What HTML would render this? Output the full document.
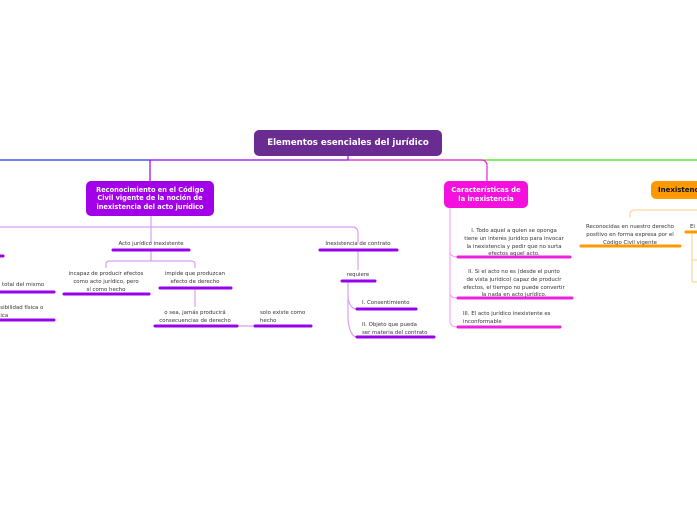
<!DOCTYPE html>
<html><head><meta charset="utf-8"><style>
body{margin:0;width:697px;height:520px;background:#fff;position:relative;overflow:hidden;font-family:"DejaVu Sans","Liberation Sans",sans-serif}
.n{position:absolute;color:#fff;font-weight:bold;text-align:center;border-radius:5px;display:flex;align-items:center;justify-content:center;line-height:1.25}
.t{position:absolute;font-size:5.4px;color:#333;line-height:1.45;text-align:center;white-space:nowrap;margin-top:2px}
.l{text-align:left}
</style></head><body>
<svg width="697" height="520" style="position:absolute;left:0;top:0">
<g fill="none" stroke-width="1.2">
<path d="M0 160H150" stroke="#2233ff"/>
<path d="M150 160H348M348 156V160M150 160V181" stroke="#9900ee"/>
<path d="M348 160H697" stroke="#44dd11"/>
<path d="M348 160H481Q487 160 487 166V181" stroke="#ee22dd"/>
<path d="M151 216V227M0 227H352Q358 227 358 233V243M151 227V243" stroke="#d9a0f0"/>
<path d="M151 250V261M106 268V264Q106 261 110 261H191Q195 261 195 264V268M195 288V307M237 326H255" stroke="#d9a0f0"/>
<path d="M358 250V270M348 281V298Q350 309 357 309M348 281V320Q350 337 357 337" stroke="#d9a0f0"/>
<path d="M450 208V252Q450 257 458 257M450 252V293Q450 298 458 298M450 293V321Q450 327 458 327" stroke="#f7a8ee"/>
<path d="M630 218V214Q630 210 636 210H697M692 232V282M692 260H697M692 282H697" stroke="#ffd699"/>
</g>
<g stroke-linecap="round" stroke-width="3">
<path d="M113 250H189M64 294H149M160 288H231M155 326H237M255 326H311M0 292H54M0 320H54M320 250H397M342 281H375M357 309H416M357 337H434M0 256H3" stroke="#9900ee"/>
<path d="M458 257H570M458 298H572M458 327H560" stroke="#ee22dd"/>
<path d="M581 246H680M686 232H697" stroke="#ff9900"/>
</g>
</svg>
<div class="n" style="left:254px;top:130px;width:188px;height:26px;background:#6a2c91;font-size:8.6px">Elementos esenciales del jurídico</div>
<div class="n" style="left:86px;top:181px;width:128px;height:35px;background:#a100e8;font-size:6.6px">Reconocimiento en el Código<br>Civil vigente de la noción de<br>inexistencia del acto jurídico</div>
<div class="n" style="left:444px;top:181px;width:84px;height:27px;background:#f511dd;font-size:6.8px">Características de<br>la inexistencia</div>
<div class="n" style="left:651px;top:181px;width:60px;height:18px;background:#ff9900;color:#111;font-size:7px;justify-content:flex-start;padding-left:7px">Inexistencia</div>
<div class="t" style="left:101px;top:239px;width:100px">Acto jurídico inexistente</div>
<div class="t" style="left:46px;top:269px;width:120px">incapaz de producir efectos<br>como acto jurídico, pero<br>sí como hecho</div>
<div class="t" style="left:145px;top:269px;width:100px">impide que produzcan<br>efecto de derecho</div>
<div class="t" style="left:145px;top:308px;width:100px">o sea, jamás producirá<br>consecuencias de derecho</div>
<div class="t l" style="left:260px;top:308px">solo existe como<br>hecho</div>
<div class="t l" style="left:-3px;top:280px">a total del mismo</div>
<div class="t l" style="left:-3px;top:303px">osibilidad física o<br>dica</div>
<div class="t" style="left:308px;top:239px;width:100px">Inexistencia de contrato</div>
<div class="t" style="left:328px;top:270px;width:60px">requiere</div>
<div class="t l" style="left:362px;top:298px">I. Consentimiento</div>
<div class="t l" style="left:362px;top:320px">II. Objeto que pueda<br>ser materia del contrato</div>
<div class="t" style="left:454px;top:226px;width:120px">I. Todo aquel a quien se oponga<br>tiene un interés jurídico para invocar<br>la inexistencia y pedir que no surta<br>efectos aquel acto.</div>
<div class="t" style="left:454px;top:267px;width:120px">II. Si el acto no es (desde el punto<br>de vista jurídico) capaz de producir<br>efectos, el tiempo no puede convertir<br>la nada en acto jurídico.</div>
<div class="t l" style="left:463px;top:309px">III. El acto jurídico inexistente es<br>inconformable</div>
<div class="t" style="left:570px;top:222px;width:120px">Reconocidas en nuestro derecho<br>positivo en forma expresa por el<br>Código Civil vigente</div>
<div class="t l" style="left:690px;top:222px">El</div>
</body></html>
